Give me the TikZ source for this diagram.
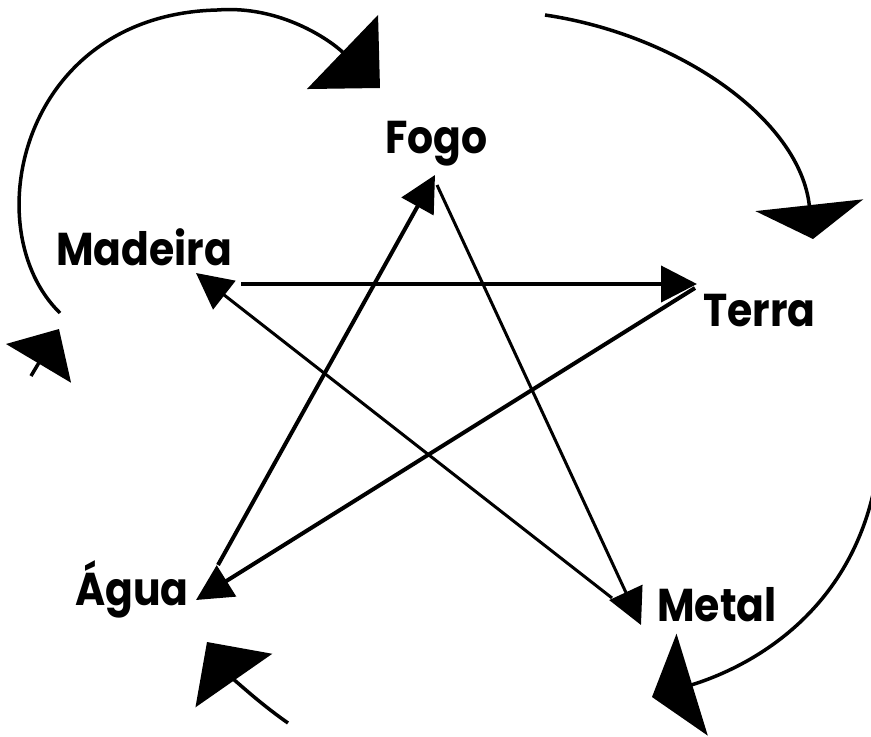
\documentclass[tikz,border=0pt]{standalone}
\usepackage{fontspec}
\setmainfont{Poppins}[FakeStretch=0.89]
\usetikzlibrary{arrows.meta}

\begin{document}
\begin{tikzpicture}[x=1pt,y=-1pt,
  elem/.style={anchor=base west,inner sep=0pt,font=\fontsize{46}{50}\selectfont\bfseries},
  star/.style={line width=4pt,-{Triangle[length=36pt,width=36pt]}},
  thinstar/.style={star,line width=3pt},
  gen/.style={line width=3.5pt}]
\useasboundingbox (0,0) rectangle (871,737);
% the five elements
\node[elem] (fogo) at (385,153) {Fogo};
\node[elem] (madeira) at (56,265) {Madeira};
\node[elem] (terra) at (703,326) {Terra};
\node[elem] (agua) at (75,605) {Água};
\node[elem] (metal) at (657,621) {Metal};
% arrow ends of the star
\coordinate (madS) at (241,284);
\coordinate (madT) at (196,273);
\coordinate (fogS) at (437,185);
\coordinate (fogT) at (435,175);
\coordinate (terS) at (695,288);
\coordinate (terT) at (697,284);
\coordinate (metS) at (612,598);
\coordinate (metT) at (641,625);
\coordinate (agS) at (218,565);
\coordinate (agT) at (196,600);
% star (control)
\draw[star] (madS) -- (terT);
\draw[star] (terS) -- (agT);
\draw[star] (agS) -- (fogT);
\draw[thinstar] (fogS) -- (metT);
\draw[thinstar] (metS) -- (madT);
% ends of the outer arrows
\coordinate (c1) at (60,313);
\coordinate (c1t) at (380,88);
\coordinate (c2) at (545,15);
\coordinate (c2t) at (813,239);
\coordinate (c3) at (876,480);
\coordinate (c3t) at (652,697);
\coordinate (c4) at (288,723);
\coordinate (c4t) at (207,642);
\coordinate (c5) at (31,376);
\coordinate (c5t) at (59,329);
% outer circle (generation)
\draw[gen,-{Triangle[length=52pt,width=102pt]}] (c1) .. controls (-25,230) and (20,15) .. (217,10)
  .. controls (280,5) and (330,40) .. (c1t);
\draw[gen,-{Triangle[length=34pt,width=108pt]}] (c2) .. controls (680,35) and (800,120) .. (c2t);
\draw[gen,-{Triangle[length=42pt,width=106pt]}] (c3) .. controls (850,620) and (740,670) .. (c3t);
\draw[gen,-{Triangle[length=47pt,width=93pt]}] (c4) .. controls (255,700) and (230,675) .. (c4t);
\draw[gen,-{Triangle[length=40pt,width=75pt]}] (c5) -- (c5t);
\end{tikzpicture}
\end{document}
